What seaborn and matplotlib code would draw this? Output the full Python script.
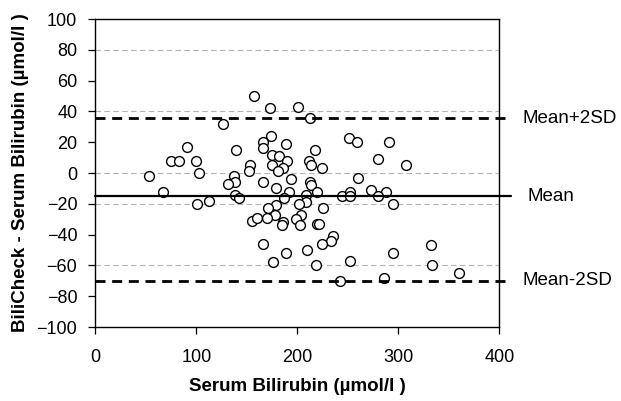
import numpy as np
import pandas as pd
import seaborn as sns
import matplotlib.pyplot as plt

# Serum bilirubin (x) and BiliCheck - serum difference (y)
serum = [53, 67, 75, 83, 91, 100, 103, 101, 113, 126,
         137, 138, 131, 138, 139, 142, 153, 152, 155, 160,
         157, 173, 201, 213, 174, 166, 166, 189, 175, 182,
         190, 175, 186, 181, 217, 212, 214, 224, 251, 259,
         280, 291, 308, 166, 194, 260, 179, 192, 213, 214,
         219, 209, 244, 252, 252, 273, 288, 280, 295, 187,
         209, 179, 202, 171, 178, 204, 225, 170, 186, 185,
         199, 203, 219, 221, 235, 233, 224, 166, 189, 210,
         176, 218, 252, 242, 332, 295, 333, 286, 360]
diff = [-2, -12, 8, 8, 17, 8, 0, -20, -18, 32,
        -2, -6, -7, -14, 15, -16, 5, 1, -31, -29,
        50, 42, 43, 36, 24, 20, 16, 19, 12, 11,
        8, 5, 3, 1, 15, 8, 5, 3, 23, 20,
        9, 20, 5, -6, -4, -3, -10, -12, -6, -8,
        -12, -14, -15, -12, -15, -11, -12, -15, -20, -16,
        -19, -21, -20, -23, -27, -27, -23, -29, -32, -34,
        -30, -34, -33, -33, -41, -44, -46, -46, -52, -50,
        -58, -60, -57, -70, -47, -52, -60, -68, -65]

mean_diff = -15
upper_loa = 35.5
lower_loa = -70
grid_levels = [80, 40, 0, -20, -60]
ref_labels = ['Mean+2SD', 'Mean', 'Mean-2SD']

df = pd.DataFrame({'Serum Bilirubin': serum, 'Difference': diff})

sns.set_style('white')
plt.rcParams['font.family'] = ['Liberation Sans', 'DejaVu Sans']
plt.rcParams['text.color'] = 'black'
plt.rcParams['axes.labelcolor'] = 'black'

fig = plt.figure(figsize=(6.21, 4.01), dpi=100)
ax = fig.add_axes([0.1535, 0.1845, 0.6506, 0.768])

# light dashed gridlines
ax.hlines(grid_levels, 0, 400, colors='#b4b4b4', linestyles=(0, (5, 3)),
          linewidth=0.8, zorder=1)

sns.scatterplot(data=df, x='Serum Bilirubin', y='Difference', ax=ax,
                s=50, facecolor='white', edgecolor='black', linewidth=1.0,
                zorder=3)

# mean and limits of agreement, running a little past the frame
ax.plot([0, 412], [mean_diff, mean_diff], color='black', lw=1.6,
        clip_on=False, zorder=4)
for lvl in (upper_loa, lower_loa):
    ax.plot([0, 412], [lvl, lvl], color='black', lw=2.0,
            linestyle=(0, (3.6, 2.4)), clip_on=False, zorder=4)

ax.text(423, upper_loa, ref_labels[0], va='center', ha='left', fontsize=13.5)
ax.text(428, mean_diff, ref_labels[1], va='center', ha='left', fontsize=13.5)
ax.text(423, lower_loa, ref_labels[2], va='center', ha='left', fontsize=13.5)

ax.set_xlim(0, 400)
ax.set_ylim(-100, 100)
ax.set_xticks(range(0, 401, 100))
ax.set_yticks(range(-100, 101, 20))
ax.tick_params(axis='both', direction='out', length=5, width=0.9,
               labelsize=13, colors='black', bottom=True, left=True,
               top=False, right=False)
ax.tick_params(axis='x', pad=11)
ax.tick_params(axis='y', pad=8)
for sp in ax.spines.values():
    sp.set_color('black')
    sp.set_linewidth(1.0)

ax.set_xlabel('Serum Bilirubin (µmol/l )', fontsize=13.5, fontweight='bold')
ax.set_ylabel('BiliCheck - Serum Bilirubin (µmol/l )', fontsize=13.5,
              fontweight='bold')
ax.xaxis.set_label_coords(0.5, -0.165)
ax.yaxis.set_label_coords(-0.165, 0.5)

fig.savefig('out.png', dpi=100)
